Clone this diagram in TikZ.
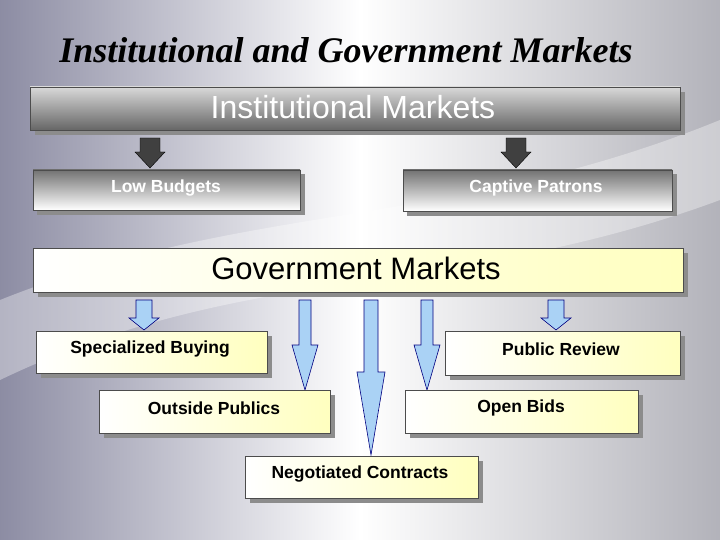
\documentclass[tikz,border=0pt]{standalone}
\usepackage{fontspec}
\setmainfont{Liberation Serif}
\setsansfont{Liberation Sans}
\definecolor{lblue}{RGB}{170,210,245}
\begin{document}
\begin{tikzpicture}[x=1pt,y=-1pt,
  shadowbox/.style={fill=black!45},
  ybox/.style={draw=black!70,line width=0.8pt,left color=white,right color=yellow!25},
  gbox/.style={draw=black!70,line width=0.8pt,top color=black!15,bottom color=black!60},
  lbox/.style={draw=black!70,line width=0.8pt,top color=black!55,bottom color=white},
  lbl/.style={font=\sffamily\bfseries\fontsize{17.5}{20}\selectfont},
  darr/.style={fill=black!75,draw=black},
  barr/.style={fill=lblue,draw=blue!50!black,line width=0.6pt}]
\useasboundingbox (0,0) rectangle (720,540);
\shade[left color=blue!20!black!45,right color=blue!10!black!30,middle color=white] (0,0) rectangle (720,540);
\fill[white,opacity=0.35] (0,300) .. controls (250,200) and (450,230) .. (720,120) -- (720,200) .. controls (450,300) and (250,260) .. (0,380) -- cycle;
\node (title) at (346,50) {\fontsize{36}{40}\selectfont\bfseries\itshape Institutional and Government Markets};
% top box
\fill[shadowbox] (35,92) rectangle (685,135);
\draw[gbox] (30,87) rectangle (680,130);
\node[text=white,font=\sffamily\fontsize{32}{36}\selectfont] (im) at (353,107) {Institutional Markets};
% dark arrows
\foreach \xx/\nm in {150/a1,516/a2}{
 \draw[darr] (\xx-10,138) -- (\xx+10,138) -- (\xx+10,152) -- (\xx+15,152) -- (\xx,168) -- (\xx-15,152) -- (\xx-10,152) -- cycle;}
\fill[shadowbox] (37,174) rectangle (305,215);
\draw[lbox] (33,170) rectangle (300,210);
\node[lbl,text=white] (lb) at (166,188) {Low Budgets};
\fill[shadowbox] (407,174) rectangle (677,216);
\draw[lbox] (403,170) rectangle (672,211);
\node[lbl,text=white] (cp) at (536,188) {Captive Patrons};
% government
\fill[shadowbox] (38,253) rectangle (688,297);
\draw[ybox] (33,248) rectangle (683,292);
\node[font=\sffamily\fontsize{31}{34}\selectfont] (gm) at (356,268) {Government Markets};
% blue arrows
\foreach \xx/\ya/\yb/\yc/\w/\h in {144/300/318/330/8/15, 556/300/318/330/8/15, 305/300/345/390/6/13, 371/300/372/455/7/14, 427/300/345/390/6/13}{
 \draw[barr] (\xx-\w,\ya) -- (\xx+\w,\ya) -- (\xx+\w,\yb) -- (\xx+\h,\yb) -- (\xx,\yc) -- (\xx-\h,\yb) -- (\xx-\w,\yb) -- cycle;}
% boxes
\foreach \xa/\ya/\xb/\yb/\tx/\ty/\t in {36/331/267/373/150/349/Specialized Buying, 445/331/680/375/561/349/Public Review, 99/390/330/433/214/408/Outside Publics, 405/390/638/433/521/408/Open Bids, 245/456/478/498/360/474/Negotiated Contracts}{
 \fill[shadowbox] (\xa+5,\ya+5) rectangle (\xb+5,\yb+5);
 \draw[ybox] (\xa,\ya) rectangle (\xb,\yb);
 \node[lbl] at (\tx,\ty) {\t};}
\end{tikzpicture}
\end{document}
